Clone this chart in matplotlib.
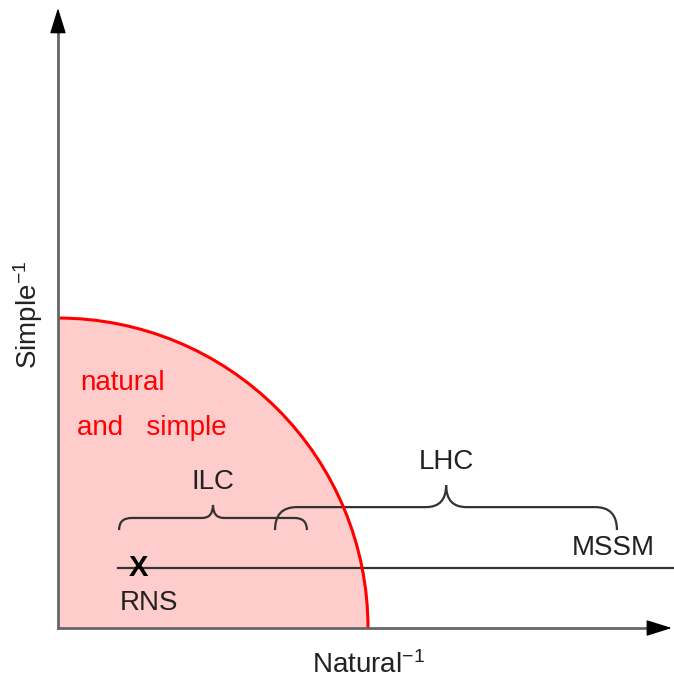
import numpy as np
import matplotlib.pyplot as plt
from matplotlib.patches import Wedge, Arc, PathPatch
from matplotlib.path import Path

plt.rcParams['font.family'] = ['Liberation Sans', 'DejaVu Sans']
plt.rcParams['mathtext.fontset'] = 'custom'
plt.rcParams['mathtext.rm'] = 'Liberation Sans'
plt.rcParams['mathtext.it'] = 'Liberation Sans:italic'

# region of "natural and simple" (quarter circle around the origin)
region_radius = 1.0
# axis lengths
axis_len_x = 1.98
axis_len_y = 2.0
# the horizontal model line and the RNS point
model_line_y = 0.194
model_line_x = [0.194, 2.0]
rns_x = 0.258
# braces: reach of the colliders
brace_names = ["ILC", "LHC"]
brace_x0 = [0.197, 0.700]
brace_x1 = [0.803, 1.803]
brace_mid = [0.50, 1.252]
brace_end_y = [0.316, 0.316]
brace_flat_y = [0.355, 0.390]
brace_tip_y = [0.397, 0.461]
brace_label_y = [0.471, 0.535]

FS = 20


def brace(ax, x0, x1, xm, y_end, y_flat, y_tip, r_end, r_mid, color='#333333'):
    verts = [(x0, y_end),
             (x0, y_flat), (x0 + r_end, y_flat),
             (xm - r_mid, y_flat),
             (xm, y_flat), (xm, y_tip),
             (xm, y_flat), (xm + r_mid, y_flat),
             (x1 - r_end, y_flat),
             (x1, y_flat), (x1, y_end)]
    codes = [Path.MOVETO,
             Path.CURVE3, Path.CURVE3,
             Path.LINETO,
             Path.CURVE3, Path.CURVE3,
             Path.CURVE3, Path.CURVE3,
             Path.LINETO,
             Path.CURVE3, Path.CURVE3]
    ax.add_patch(PathPatch(Path(verts, codes), fill=False, edgecolor=color, lw=1.6))


fig = plt.figure(figsize=(6.74, 6.79), dpi=100)
ax = fig.add_axes([0, 0, 1, 1])
ax.set_xlim(-0.187, 1.987)
ax.set_ylim(-0.1645, 2.026)
ax.axis('off')

# shaded region
ax.add_patch(Wedge((0, 0), region_radius, 0, 90, facecolor='#ffcccc', edgecolor='none', zorder=1))
ax.add_patch(Arc((0, 0), 2 * region_radius, 2 * region_radius, theta1=0, theta2=90,
                 color='red', lw=2.2, zorder=3))

# axes: grey shafts, black heads
ax.plot([0, axis_len_x - 0.06], [0, 0], color='#666666', lw=2, zorder=4)
ax.plot([0, 0], [0, axis_len_y - 0.06], color='#666666', lw=2, zorder=4)
arr = dict(arrowstyle='-|>,head_length=0.8,head_width=0.25', color='black', lw=1,
           mutation_scale=20, shrinkA=0, shrinkB=0)
ax.annotate('', xy=(axis_len_x, 0), xytext=(axis_len_x - 0.08, 0), arrowprops=arr, zorder=5)
ax.annotate('', xy=(0, axis_len_y), xytext=(0, axis_len_y - 0.08), arrowprops=arr, zorder=5)

# model line
ax.plot(model_line_x, [model_line_y, model_line_y], color='#333333', lw=1.6, zorder=2)
ax.text(rns_x, model_line_y, 'X', fontsize=21, fontweight='bold', ha='center', va='center', zorder=5)

# braces
for i, name in enumerate(brace_names):
    brace(ax, brace_x0[i], brace_x1[i], brace_mid[i], brace_end_y[i], brace_flat_y[i],
          brace_tip_y[i], 0.04 if i == 0 else 0.07, 0.035 if i == 0 else 0.065)
    ax.text(brace_mid[i], brace_label_y[i], name, fontsize=FS, ha='center', va='center', color='#222222')

ax.text(1.926, 0.258, 'MSSM', fontsize=FS, ha='right', va='center', color='#222222')
ax.text(0.2, 0.08, 'RNS', fontsize=FS, ha='left', va='center', color='#222222')
ax.text(0.071, 0.79, 'natural', fontsize=FS, ha='left', va='center', color='red')
ax.text(0.061, 0.645, 'and   simple', fontsize=FS, ha='left', va='center', color='red')

ax.text(1.0, -0.12, 'Natural$^{-1}$', fontsize=FS, ha='center', va='center', color='#222222')
ax.text(-0.097, 1.01, 'Simple$^{-1}$', fontsize=FS, ha='center', va='center', rotation=90,
        color='#222222')

fig.savefig('out.png', dpi=100)
